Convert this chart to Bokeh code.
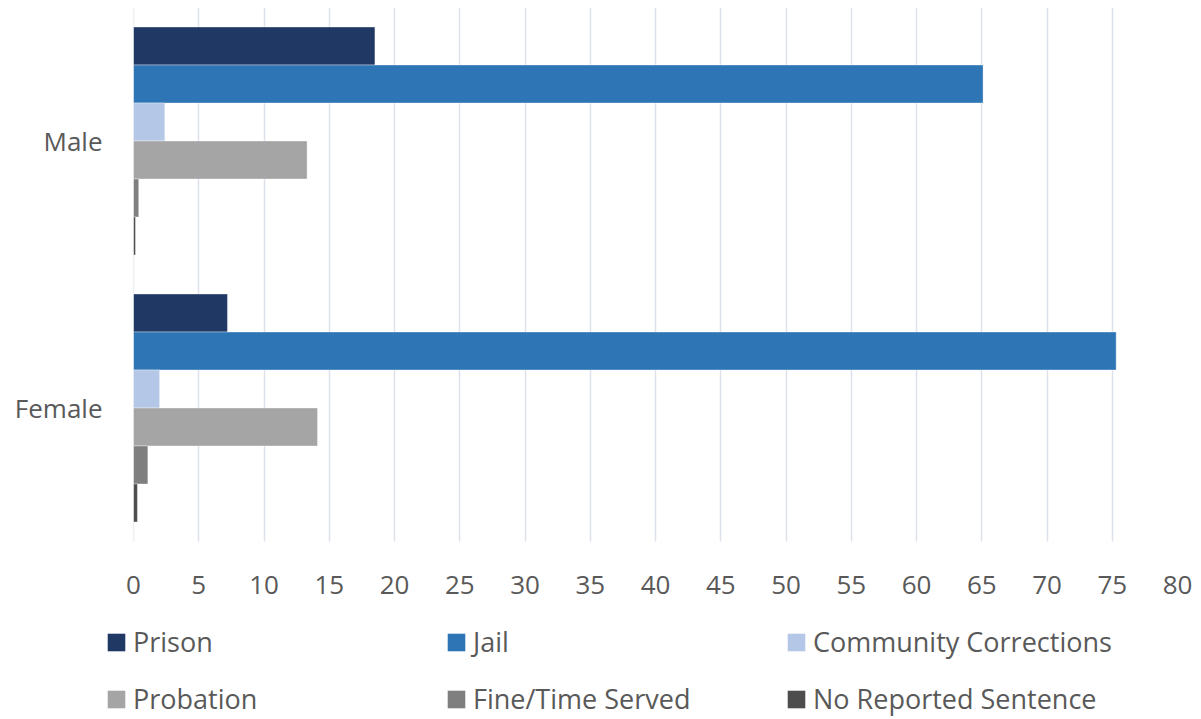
from bokeh.plotting import figure
from bokeh.models import (FactorRange, Range1d, FixedTicker, Legend, LegendItem,
                          ColumnDataSource, Span)
from bokeh.transform import dodge
from bokeh.embed import file_html
from bokeh.resources import INLINE

genders = ["Male", "Female"]
series_names = ["Prison", "Jail", "Community Corrections", "Probation",
                "Fine/Time Served", "No Reported Sentence"]
prison = [18.5, 7.2]
jail = [65.1, 75.3]
community = [2.4, 2.0]
probation = [13.3, 14.1]
fine = [0.4, 1.1]
no_reported = [0.15, 0.3]
x_ticks = list(range(0, 81, 5))

colors = ["#203864", "#2E75B6", "#B4C7E7", "#A5A5A5", "#7F7F7F", "#4D4D4D"]

FONT = "Open Sans"
TXT = "#595959"

src = ColumnDataSource(dict(gender=genders, s0=prison, s1=jail, s2=community,
                            s3=probation, s4=fine, s5=no_reported))

p = figure(y_range=FactorRange(factors=["Female", "Male"]),
           x_range=Range1d(0, 80),
           width=1201, height=610,
           min_border_left=133, min_border_right=24, min_border_top=7,
           min_border_bottom=69,
           output_backend="svg", toolbar_location=None,
           outline_line_color=None)

p.xgrid.grid_line_color = "#DDE2EA"
p.xgrid.grid_line_width = 1.5
p.xgrid.ticker = FixedTicker(ticks=x_ticks)
p.ygrid.grid_line_color = None
p.add_layout(Span(location=x_ticks[0], dimension="height",
                  line_color="#DDE2EA", line_width=1.5, level="underlay"))

bh = 0.1423
for i, (name, col) in enumerate(zip(series_names, colors)):
    off = (2.5 - i) * bh
    p.hbar(y=dodge("gender", off, range=p.y_range), right=f"s{i}", left=0,
           height=bh, source=src, fill_color=col, line_color="white",
           line_width=0.6, line_alpha=0.6)

p.xaxis.ticker = FixedTicker(ticks=x_ticks)
for ax in (p.xaxis[0], p.yaxis[0]):
    ax.axis_line_color = None
    ax.major_tick_line_color = None
    ax.minor_tick_line_color = None
    ax.major_label_text_font = FONT
    ax.major_label_text_font_size = "26px"
    ax.major_label_text_color = TXT
p.xaxis.major_label_standoff = 28
p.yaxis.major_label_standoff = 25

# legend strip below the chart (separate root, hidden copies of the series)
q = figure(width=1201, height=109, x_range=Range1d(0, 80),
           y_range=FactorRange(factors=genders),
           min_border=0, output_backend="svg", toolbar_location=None,
           outline_line_color=None)
q.axis.visible = False
q.grid.visible = False
items = []
for i, (name, col) in enumerate(zip(series_names, colors)):
    r = q.hbar(y="gender", right=f"s{i}", left=0, height=0.5, source=src,
               fill_color=col, line_color=None, visible=False)
    items.append(LegendItem(label=name, renderers=[r]))

legend = Legend(items=items, location=(105, 2), orientation="horizontal", ncols=3,
                glyph_width=22, glyph_height=22, label_standoff=6, spacing=20,
                label_width=292, label_height=34, padding=0, margin=0,
                label_text_font=FONT, label_text_font_size="27px",
                label_text_color=TXT, background_fill_alpha=0,
                border_line_color=None, inactive_fill_alpha=0)
q.add_layout(legend, "center")

open("out.html", "w").write(file_html([p, q], INLINE))
